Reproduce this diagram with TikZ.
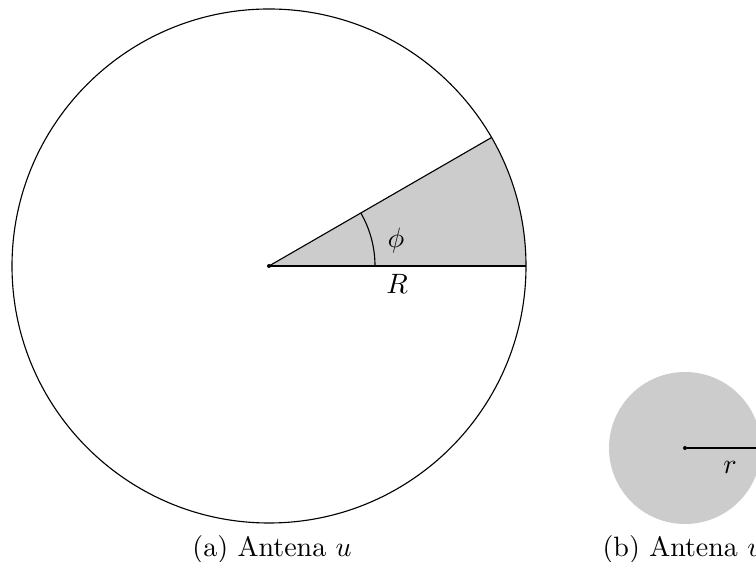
\documentclass[tikz,border=0pt]{standalone}
\usetikzlibrary{calc}
\begin{document}
\begin{tikzpicture}[x=0.357pt,y=0.357pt,
  edge/.style={line width=0.4pt},
  lbl/.style={inner sep=0pt},
  captext/.style={inner sep=0pt,anchor=base}]
\useasboundingbox (0,0) rectangle (756,562);
% (a)
\coordinate (O) at (269,296);
\fill[gray!40] (O) -- ++(257,0) arc[start angle=0,end angle=30,radius=257] -- cycle;
\draw[edge] (O) circle[radius=257];
\draw[edge] (O) -- ++(0:257);
\draw[edge] (O) -- ++(30:257);
\draw[edge] ($(O)+(106,0)$) arc[start angle=0,end angle=30,radius=106];
\fill (O) circle[radius=2];
\node[lbl] (phi) at (396,321) {$\phi$};
\node[lbl] (R) at (397,278) {$R$};
\node[captext] (capa) at (272,5) {(a) Antena $u$};
% (b)
\coordinate (P) at (685,114);
\fill[gray!40] (P) circle[radius=76];
\coordinate (Pe) at (761,114);
\draw[edge] (P) -- (Pe);
\fill (P) circle[radius=2];
\node[lbl] (r) at (730,95) {$r$};
\node[captext,anchor=base west] (capb) at (602,5) {(b) Antena $v$};
\end{tikzpicture}
\end{document}
